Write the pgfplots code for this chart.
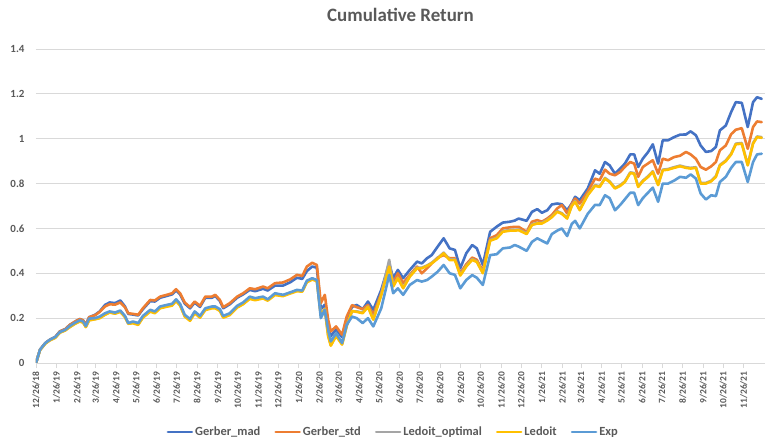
\documentclass[border=0pt]{standalone}
\usepackage{pgfplots}
\pgfplotsset{compat=1.18}
\usepackage{pgfplotstable}
\usepackage{fontspec}
\setmainfont{Carlito}
\definecolor{cmad}{HTML}{4472C4}
\definecolor{cstd}{HTML}{ED7D31}
\definecolor{clopt}{HTML}{A5A5A5}
\definecolor{cled}{HTML}{FFC000}
\definecolor{cexp}{HTML}{5B9BD5}
\definecolor{gridgray}{HTML}{D9D9D9}
\definecolor{txtgray}{HTML}{595959}
\pgfplotstableread{
day mad std lopt led exp
0 0 0 0 0 0
6 0.059 0.059 0.058 0.057 0.059
14 0.089 0.089 0.087 0.086 0.089
21 0.104 0.104 0.102 0.101 0.104
29 0.116 0.116 0.113 0.112 0.116
36 0.141 0.141 0.136 0.135 0.138
44 0.151 0.151 0.146 0.145 0.148
51 0.17 0.17 0.161 0.16 0.165
59 0.185 0.185 0.176 0.175 0.18
66 0.196 0.196 0.186 0.185 0.19
71 0.19 0.19 0.181 0.18 0.185
75 0.17 0.17 0.161 0.16 0.165
80 0.204 0.204 0.191 0.19 0.198
89 0.215 0.213 0.196 0.195 0.2
96 0.23 0.228 0.201 0.2 0.207
104 0.259 0.252 0.216 0.215 0.222
111 0.27 0.262 0.226 0.225 0.23
119 0.267 0.26 0.221 0.22 0.225
127 0.279 0.27 0.229 0.228 0.234
134 0.252 0.248 0.206 0.205 0.21
139 0.219 0.222 0.176 0.175 0.178
146 0.216 0.219 0.18 0.177 0.185
154 0.212 0.215 0.173 0.17 0.178
161 0.24 0.244 0.205 0.202 0.21
172 0.276 0.281 0.232 0.229 0.237
179 0.274 0.279 0.225 0.222 0.23
187 0.291 0.296 0.247 0.244 0.252
197 0.299 0.304 0.254 0.251 0.259
205 0.306 0.311 0.259 0.256 0.264
211 0.324 0.329 0.279 0.276 0.284
217 0.306 0.311 0.259 0.256 0.264
224 0.265 0.27 0.21 0.207 0.215
232 0.244 0.249 0.191 0.188 0.196
239 0.269 0.274 0.225 0.222 0.23
247 0.25 0.255 0.205 0.202 0.21
255 0.291 0.296 0.239 0.236 0.244
265 0.291 0.296 0.247 0.244 0.252
270 0.299 0.304 0.247 0.244 0.252
277 0.276 0.281 0.235 0.232 0.24
282 0.244 0.249 0.205 0.202 0.21
292 0.262 0.267 0.217 0.214 0.222
303 0.291 0.296 0.25 0.247 0.255
312 0.306 0.311 0.265 0.262 0.27
322 0.326 0.333 0.289 0.286 0.296
330 0.32 0.329 0.283 0.28 0.289
342 0.331 0.341 0.291 0.288 0.296
349 0.323 0.333 0.281 0.278 0.284
360 0.345 0.356 0.306 0.303 0.311
372 0.345 0.359 0.301 0.298 0.304
383 0.36 0.373 0.313 0.31 0.315
393 0.38 0.393 0.323 0.32 0.326
401 0.375 0.388 0.321 0.318 0.323
408 0.41 0.43 0.363 0.36 0.367
416 0.43 0.447 0.375 0.372 0.378
423 0.425 0.437 0.368 0.365 0.37
429 0.24 0.267 0.213 0.21 0.2
435 0.26 0.304 0.243 0.24 0.237
440 0.16 0.193 0.123 0.12 0.148
444 0.12 0.141 0.08 0.077 0.096
452 0.15 0.163 0.123 0.12 0.133
461 0.115 0.126 0.085 0.082 0.089
468 0.2 0.207 0.168 0.165 0.17
476 0.25 0.258 0.23 0.232 0.207
483 0.259 0.249 0.23 0.228 0.2
492 0.24 0.24 0.225 0.222 0.178
500 0.274 0.259 0.252 0.25 0.2
508 0.237 0.215 0.196 0.193 0.163
520 0.326 0.311 0.305 0.302 0.244
532 0.445 0.437 0.46 0.43 0.393
538 0.378 0.356 0.345 0.341 0.311
545 0.415 0.4 0.38 0.378 0.333
553 0.378 0.356 0.336 0.333 0.304
563 0.415 0.393 0.388 0.385 0.348
574 0.452 0.43 0.425 0.422 0.37
581 0.444 0.4 0.425 0.422 0.363
589 0.467 0.422 0.435 0.433 0.37
596 0.481 0.444 0.447 0.444 0.385
605 0.519 0.47 0.468 0.465 0.407
614 0.556 0.481 0.492 0.489 0.437
623 0.511 0.467 0.462 0.459 0.4
631 0.504 0.467 0.462 0.459 0.393
639 0.422 0.4 0.393 0.39 0.333
648 0.489 0.44 0.433 0.43 0.37
657 0.526 0.47 0.463 0.46 0.392
664 0.511 0.46 0.453 0.45 0.38
673 0.437 0.41 0.403 0.4 0.348
684 0.585 0.556 0.548 0.545 0.481
694 0.608 0.57 0.559 0.556 0.485
703 0.626 0.6 0.588 0.585 0.511
714 0.63 0.605 0.593 0.59 0.515
721 0.635 0.607 0.593 0.59 0.526
727 0.644 0.607 0.595 0.592 0.519
739 0.634 0.585 0.578 0.575 0.5
747 0.674 0.63 0.618 0.615 0.54
755 0.686 0.637 0.625 0.622 0.556
762 0.67 0.63 0.625 0.622 0.545
770 0.681 0.644 0.638 0.635 0.533
777 0.707 0.66 0.653 0.65 0.575
785 0.711 0.689 0.677 0.674 0.59
792 0.708 0.704 0.668 0.665 0.6
800 0.681 0.667 0.647 0.644 0.566
807 0.711 0.71 0.703 0.7 0.62
812 0.741 0.733 0.722 0.719 0.634
819 0.726 0.711 0.684 0.681 0.6
831 0.778 0.763 0.751 0.748 0.665
842 0.859 0.822 0.793 0.79 0.705
849 0.844 0.815 0.788 0.785 0.704
857 0.896 0.862 0.825 0.822 0.748
864 0.881 0.844 0.81 0.807 0.735
872 0.844 0.837 0.781 0.778 0.681
880 0.867 0.852 0.793 0.79 0.705
887 0.889 0.875 0.81 0.807 0.73
895 0.93 0.896 0.85 0.847 0.759
901 0.93 0.889 0.847 0.844 0.759
907 0.874 0.83 0.788 0.785 0.704
914 0.911 0.874 0.813 0.81 0.735
922 0.941 0.89 0.833 0.83 0.76
929 0.975 0.904 0.855 0.852 0.782
937 0.889 0.844 0.796 0.793 0.719
944 0.993 0.911 0.862 0.859 0.8
952 0.993 0.904 0.865 0.862 0.8
961 1.007 0.918 0.873 0.87 0.813
970 1.018 0.924 0.88 0.877 0.83
979 1.019 0.941 0.873 0.87 0.826
986 1.033 0.93 0.87 0.867 0.841
994 1.015 0.91 0.873 0.87 0.822
1001 0.97 0.874 0.803 0.8 0.756
1009 0.941 0.862 0.803 0.8 0.729
1017 0.945 0.877 0.813 0.81 0.748
1024 0.963 0.896 0.833 0.83 0.744
1030 1.037 0.948 0.883 0.88 0.807
1039 1.059 0.97 0.903 0.9 0.83
1047 1.119 1.02 0.933 0.93 0.87
1054 1.163 1.04 0.978 0.975 0.896
1063 1.16 1.047 0.981 0.978 0.896
1072 1.052 0.955 0.884 0.881 0.807
1080 1.163 1.052 0.981 0.978 0.896
1086 1.185 1.077 1.01 1.007 0.93
1093 1.178 1.074 1.007 1.004 0.933
}\cumret
\begin{document}
\begin{tikzpicture}
\useasboundingbox (0,0) rectangle (765bp,447bp);
\begin{axis}[
  at={(36bp,84bp)}, anchor=south west,
  scale only axis, width=729bp, height=314bp,
  xmin=0, xmax=1098, ymin=0, ymax=1.4,
  axis lines*=left,
  y axis line style={draw=none},
  x axis line style={draw=gridgray, line width=0.9bp},
  ytick={0,0.2,0.4,0.6,0.8,1,1.2,1.4},
  yticklabels={0,0.2,0.4,0.6,0.8,1,1.2,1.4},
  ytick style={draw=none},
  ymajorgrids, grid style={gridgray, line width=0.9bp},
  yticklabel style={font=\fontsize{11}{12}\selectfont\bfseries, color=txtgray, xshift=-3bp},
  xtick={0,31,62,90,121,151,182,212,243,274,304,335,365,396,427,456,487,517,548,578,609,640,670,701,731,762,793,821,852,882,913,943,974,1005,1035,1066},
  xticklabels={12/26/18,1/26/19,2/26/19,3/26/19,4/26/19,5/26/19,6/26/19,7/26/19,8/26/19,9/26/19,10/26/19,11/26/19,12/26/19,1/26/20,2/26/20,3/26/20,4/26/20,5/26/20,6/26/20,7/26/20,8/26/20,9/26/20,10/26/20,11/26/20,12/26/20,1/26/21,2/26/21,3/26/21,4/26/21,5/26/21,6/26/21,7/26/21,8/26/21,9/26/21,10/26/21,11/26/21},
  xticklabel style={rotate=90, anchor=east, font=\fontsize{9.5}{11}\selectfont\bfseries, color=txtgray},
  xtick style={draw=gridgray, line width=0.9bp},
  tick align=outside, major tick length=5bp,
  title={Cumulative Return},
  title style={at={(0.5,1)}, anchor=center, yshift=28bp, font=\fontsize{19}{21}\selectfont\bfseries, color=txtgray},
  legend columns=5,
  legend style={at={(0.49,-0.22)}, anchor=center, draw=none, fill=none,
    font=\fontsize{12.5}{14}\selectfont\bfseries, text=txtgray,
    /tikz/every even column/.append style={column sep=12bp}},
  legend image code/.code={\draw[#1] (0bp,0bp) -- (24bp,0bp);},
  every axis plot/.append style={line width=2.6bp, line join=round, line cap=round},
]
\addplot[cmad] table[x=day, y=mad] {\cumret};
\addlegendentry{Gerber\_mad}
\addplot[cstd] table[x=day, y=std] {\cumret};
\addlegendentry{Gerber\_std}
\addplot[clopt] table[x=day, y=lopt] {\cumret};
\addlegendentry{Ledoit\_optimal}
\addplot[cled] table[x=day, y=led] {\cumret};
\addlegendentry{Ledoit}
\addplot[cexp] table[x=day, y=exp] {\cumret};
\addlegendentry{Exp}
\end{axis}
\end{tikzpicture}
\end{document}
